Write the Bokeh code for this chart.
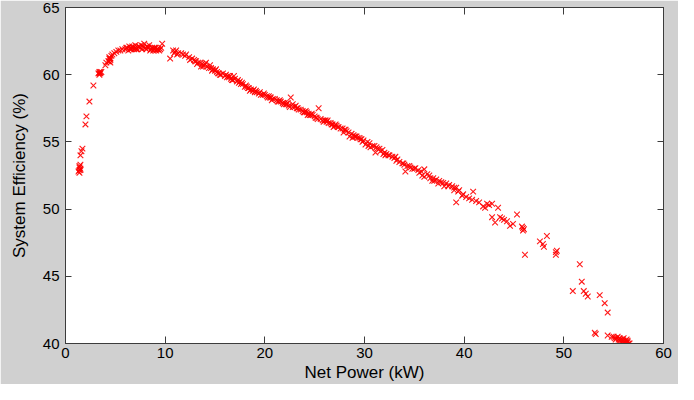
from bokeh.plotting import figure
from bokeh.models import Range1d, LinearAxis, FixedTicker, ColumnDataSource, CustomLabelingPolicy
from bokeh.embed import file_html
from bokeh.resources import INLINE

# ---- data ----
net_power_kw = [
    # rising part
    1.4, 1.4, 1.4, 1.5, 1.5, 1.4, 1.3, 1.5, 1.6, 1.5, 1.7, 2.0, 2.1, 2.4, 2.8,
    3.3, 3.4, 3.5, 3.4, 3.6, 4.0, 4.1, 4.3, 4.4, 4.5, 4.4, 4.6, 4.7, 4.5,
    4.9, 5.1, 5.3, 5.5, 5.7,
    # peak
    6.0, 6.2, 6.4, 6.5, 6.7, 6.8, 7.0, 7.1, 7.3, 7.5, 7.6, 7.8, 7.9, 8.1, 8.3,
    8.4, 8.6, 8.8, 8.9, 9.0, 9.1, 9.3, 9.4, 9.6, 9.7, 6.3, 6.9, 7.4, 8.0, 8.5,
    9.2, 6.6, 7.2, 8.7,
    6.1, 6.6, 7.0, 7.7, 8.2, 8.9, 9.5, 3.4, 3.5, 4.4, 4.5,
    # 10 - 20
    10.5, 10.8, 10.9, 11.0, 11.1, 11.3, 11.6, 11.8, 12.1, 12.4, 12.7, 12.9,
    13.1, 13.3, 13.5, 13.7, 13.9, 14.0, 14.2, 14.4, 14.6, 14.8, 15.0, 15.2,
    15.4, 15.6, 15.8, 16.0, 16.2, 16.4, 16.6, 16.8, 17.0, 17.2, 17.4, 17.6,
    17.8, 18.0, 18.2, 18.4, 18.6, 18.8, 19.0, 19.2, 19.4, 19.6, 19.8,
    11.2, 12.0, 13.6, 14.1, 15.1, 16.3, 16.9, 17.3, 18.1, 18.9, 19.5, 13.2,
    15.5, 17.7,
    # 20 - 30
    20.0, 20.2, 20.4, 20.6, 20.8, 21.0, 21.2, 21.4, 21.6, 21.8, 22.0, 22.2,
    22.4, 22.6, 22.8, 22.8, 23.0, 23.2, 23.4, 23.6, 23.8, 24.0, 24.2, 24.4,
    24.6, 24.8, 25.0, 25.2, 25.4, 25.6, 25.8, 26.0, 26.2, 26.4, 26.6, 26.8,
    27.0, 27.2, 27.4, 27.6, 27.8, 28.0, 28.2, 28.4, 28.5, 28.7, 28.9, 29.1,
    29.3, 29.5, 29.7, 29.9,
    20.5, 21.3, 22.1, 23.1, 23.9, 24.5, 25.1, 25.9, 26.7, 27.3, 28.1, 29.0,
    29.6, 21.9, 24.1, 26.3,
    # 30 - 40
    30.1, 30.3, 30.5, 30.8, 31.0, 31.1, 31.3, 31.5, 31.8, 32.0, 32.2, 32.5,
    32.8, 33.0, 33.3, 33.5, 33.8, 34.1, 34.3, 34.6, 35.0, 35.1, 35.4, 35.7,
    36.0, 36.0, 36.3, 36.6, 36.8, 37.2, 37.5, 37.9, 38.2, 38.5, 38.8, 39.0,
    39.2, 39.2, 39.5, 39.8,
    30.6, 31.6, 32.4, 33.2, 34.0, 35.5, 36.5, 37.7, 38.0, 39.0,
    # band (second pass)
    12.5, 13.8, 14.5, 15.3, 16.1, 16.7, 17.5, 18.3, 19.1, 19.9,
    20.7, 21.5, 22.3, 23.3, 24.3, 25.3, 26.1, 27.1, 27.9, 28.8,
    29.8, 30.4, 31.2, 32.1, 33.1, 33.9, 34.8, 35.8, 36.9, 37.4,
    38.4, 39.4, 13.0, 14.7, 16.5, 18.5, 20.3, 22.5, 24.7, 26.9,
    29.2, 31.9, 34.5, 37.0,
    # 40 - 46
    39.9, 40.2, 40.5, 40.8, 40.9, 41.2, 41.5, 41.9, 42.1, 42.3, 42.5, 42.8,
    42.8, 43.1, 43.4, 43.6, 43.8, 44.0, 44.3, 44.6, 44.9, 45.3, 45.9, 45.9,
    46.0, 45.8, 46.1,
    # above 46
    47.6, 47.9, 48.0, 48.3, 49.2, 49.2, 49.3, 51.6, 51.8, 50.9, 52.0, 52.2,
    52.4, 53.6, 54.1, 54.4, 53.1, 53.2, 54.4,
    # end cluster
    54.8, 55.0, 55.1, 55.3, 55.4, 55.5, 55.6, 55.7, 55.8, 55.9, 56.0, 56.1,
    56.2, 56.3, 56.4, 56.5, 56.6, 55.2, 55.6, 56.0, 56.3, 55.8, 56.4,
]

system_efficiency_pct = [
    # rising part
    52.7, 52.9, 53.1, 53.0, 53.3, 53.2, 52.8, 52.9, 54.3, 54.0, 54.5, 56.3, 56.9, 58.0, 59.2,
    60.1, 60.2, 60.1, 60.0, 60.2, 60.7, 60.9, 61.0, 61.2, 61.1, 61.3, 61.4, 61.5, 60.9,
    61.6, 61.7, 61.8, 61.8, 61.9,
    # peak
    61.9, 62.0, 62.1, 61.9, 62.1, 62.0, 62.2, 61.9, 62.1, 62.0, 62.2, 62.1, 62.3, 61.9, 62.0,
    62.2, 61.9, 61.8, 61.9, 62.0, 61.8, 61.9, 61.8, 62.0, 62.3, 61.8, 61.9, 62.1, 62.0, 61.8,
    61.9, 62.0, 61.9, 62.0,
    62.0, 61.9, 62.0, 61.9, 62.1, 62.0, 61.9, 60.1, 60.2, 61.0, 61.2,
    # 10 - 20
    61.2, 61.8, 61.6, 61.7, 61.8, 61.6, 61.6, 61.5, 61.5, 61.3, 61.2, 61.1,
    61.0, 60.9, 60.9, 60.8, 60.7, 60.8, 60.6, 60.5, 60.5, 60.4, 60.3, 60.2,
    60.1, 60.0, 60.1, 59.9, 59.8, 59.8, 59.7, 59.6, 59.7, 59.5, 59.4, 59.3,
    59.3, 59.1, 59.1, 59.0, 58.9, 58.8, 58.7, 58.7, 58.6, 58.5, 58.5,
    61.5, 61.4, 60.6, 60.9, 60.4, 59.9, 59.9, 59.6, 59.2, 58.9, 58.7, 60.8,
    60.0, 59.4,
    # 20 - 30
    58.5, 58.4, 58.4, 58.3, 58.2, 58.2, 58.1, 58.0, 58.0, 57.9, 57.9, 57.8,
    57.7, 58.3, 57.8, 57.6, 57.6, 57.5, 57.4, 57.4, 57.3, 57.2, 57.2, 57.1,
    57.0, 57.0, 56.9, 56.8, 57.5, 56.7, 56.6, 56.6, 56.5, 56.4, 56.4, 56.3,
    56.2, 56.2, 56.1, 56.0, 56.0, 55.9, 55.8, 55.7, 55.4, 55.6, 55.5, 55.4,
    55.3, 55.3, 55.2, 55.1,
    58.3, 58.0, 57.8, 57.7, 57.2, 57.0, 56.8, 56.5, 56.3, 56.1, 55.9, 55.4,
    55.2, 57.8, 57.3, 56.6,
    # 30 - 40
    54.8, 55.0, 54.9, 54.7, 54.7, 54.2, 54.5, 54.5, 54.4, 54.2, 54.1, 54.0,
    53.9, 53.8, 53.7, 53.5, 53.4, 52.8, 53.2, 53.1, 53.0, 53.05, 52.9, 52.8,
    52.96, 52.4, 52.6, 52.3, 52.1, 52.2, 52.1, 51.95, 51.9, 51.8, 51.7, 51.6,
    51.6, 50.5, 51.4, 51.0,
    54.6, 54.3, 54.0, 53.6, 53.3, 52.7, 52.5, 52.0, 51.7, 51.4,
    # band (second pass)
    61.1, 60.6, 60.7, 60.1, 60.0, 59.6, 59.5, 59.0, 58.8, 58.6,
    58.1, 58.1, 57.9, 57.5, 57.0, 56.7, 56.6, 56.3, 55.7, 55.3,
    55.0, 54.7, 54.6, 54.0, 53.9, 53.4, 53.0, 52.5, 52.3, 51.9,
    51.7, 51.3, 61.0, 60.3, 59.9, 58.8, 58.3, 57.6, 57.1, 56.1,
    55.4, 54.1, 53.2, 52.1,
    # 40 - 46
    51.1, 50.9, 50.8, 50.7, 51.3, 50.6, 50.5, 50.2, 50.1, 50.4, 50.3, 50.4,
    49.4, 49.0, 50.1, 49.4, 49.3, 49.2, 49.1, 48.75, 48.9, 49.6, 48.6, 48.4,
    48.5, 48.7, 46.6,
    # above 46
    47.6, 47.4, 47.2, 48.0, 46.8, 46.6, 46.9, 45.9, 44.6, 43.9, 43.9, 43.7,
    43.5, 43.6, 43.0, 42.3, 40.8, 40.7, 40.6,
    # end cluster
    40.5, 40.5, 40.4, 40.4, 40.5, 40.3, 40.4, 40.3, 40.2, 40.3, 40.2, 40.1,
    40.2, 40.1, 40.1, 40.0, 40.0, 40.3, 40.2, 40.4, 40.3, 40.1, 40.2,
]

assert len(net_power_kw) == len(system_efficiency_pct)

x_ticks = [0, 10, 20, 30, 40, 50, 60]
y_ticks = [40, 45, 50, 55, 60, 65]
x_label = "Net Power (kW)"
y_label = "System Efficiency (%)"

# ---- style ----
BG = "#d0d0d0"
AX = "#3c3c3c"
FONT = "Liberation Sans"

p = figure(
    width=678, height=384,
    x_range=Range1d(0, 60), y_range=Range1d(40, 65),
    output_backend="svg", toolbar_location=None,
    min_border_left=65, min_border_right=15,
    min_border_top=7, min_border_bottom=40,
)
p.background_fill_color = "white"
p.border_fill_color = BG
p.outline_line_color = AX
p.outline_line_width = 1
p.grid.visible = False

src = ColumnDataSource(dict(x=net_power_kw, y=system_efficiency_pct))
p.scatter("x", "y", source=src, marker="x", size=8,
          line_color="#ff0000", line_width=1.1, line_alpha=0.9)

hide_all = CustomLabelingPolicy(
    code="for (const i of Array.from(indices)) { indices.unset(i) } return indices")


def style_axis(ax, tick_len, show_labels):
    ax.axis_line_color = AX
    ax.major_tick_line_color = AX
    ax.major_tick_in = tick_len
    ax.major_tick_out = 0
    ax.minor_tick_line_color = None
    ax.major_label_text_font = FONT
    ax.major_label_text_color = "black"
    if show_labels:
        ax.major_label_text_font_size = "15px"
    else:
        ax.major_label_text_font_size = "0px"
        ax.major_label_policy = hide_all
        ax.major_label_standoff = 0


xa = p.xaxis[0]
ya = p.yaxis[0]
xa.ticker = FixedTicker(ticks=x_ticks)
ya.ticker = FixedTicker(ticks=y_ticks)
style_axis(xa, 7, True)
style_axis(ya, 6, True)
xa.major_label_standoff = 4
ya.major_label_standoff = 6
xa.axis_label = x_label
ya.axis_label = y_label
for ax in (xa, ya):
    ax.axis_label_text_font = FONT
    ax.axis_label_text_font_size = "17px"
    ax.axis_label_text_font_style = "normal"
    ax.axis_label_text_color = "black"
xa.axis_label_standoff = 2
ya.axis_label_standoff = 11

top = LinearAxis(ticker=FixedTicker(ticks=x_ticks))
right = LinearAxis(ticker=FixedTicker(ticks=y_ticks))
style_axis(top, 7, False)
style_axis(right, 6, False)
p.add_layout(top, "above")
p.add_layout(right, "right")

open("out.html", "w").write(file_html(p, INLINE))
